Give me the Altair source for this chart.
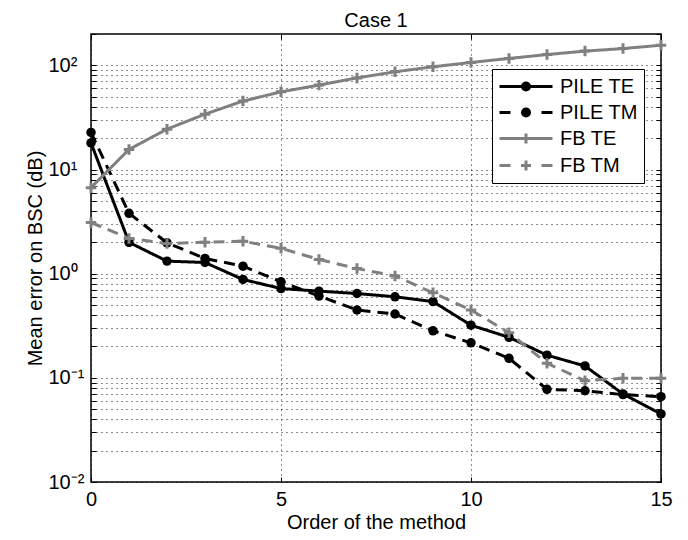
import altair as alt
import pandas as pd

order = list(range(16))
series_names = ["PILE TE", "PILE TM", "FB TE", "FB TM"]
pile_te = [18.0, 2.0, 1.32, 1.28, 0.88, 0.72, 0.68, 0.645, 0.60, 0.54, 0.32, 0.245, 0.165, 0.13, 0.07, 0.045]
pile_tm = [22.7, 3.8, 1.98, 1.40, 1.18, 0.835, 0.61, 0.448, 0.41, 0.283, 0.217, 0.154, 0.0776, 0.0752, 0.069, 0.066]
fb_te = [6.7, 15.6, 24.4, 34.0, 45.4, 55.7, 64.6, 75.8, 86.7, 96.9, 106.6, 116.5, 127.0, 137.0, 145.0, 156.0]
fb_tm = [3.1, 2.18, 1.95, 2.0, 2.05, 1.75, 1.37, 1.12, 0.95, 0.656, 0.448, 0.271, 0.138, 0.0938, 0.099, 0.099]

x_ticks = [0, 5, 10, 15]
y_decades = [0.01, 0.1, 1, 10, 100]
y_decade_labels = ["10⁻²", "10⁻¹", "10⁰", "10¹", "10²"]

series_colors = {"PILE TE": "#000000", "PILE TM": "#000000", "FB TE": "#808080", "FB TM": "#808080"}
series_dashes = {"PILE TE": [1, 0], "PILE TM": [11, 7], "FB TE": [1, 0], "FB TM": [11, 7]}

# grid / tick positions (minor decades) for the dotted log grid
y_grid = []
for d in y_decades[:-1]:
    for k in range(1, 10):
        y_grid.append(round(k * d, 6))
y_grid += [100, 200]

rows = []
for name, vals in zip(series_names, [pile_te, pile_tm, fb_te, fb_tm]):
    for o, v in zip(order, vals):
        rows.append({"order": o, "value": v, "series": name})
df = pd.DataFrame(rows)

label_expr = " : ".join(
    f"datum.value == {v} ? '{lab}'" for v, lab in zip(y_decades, y_decade_labels)
) + " : ''"

FONT = "Liberation Sans"
W, H = 570, 448

x_scale = alt.Scale(domain=[0, 15], nice=False, zero=False)
y_scale = alt.Scale(type="log", domain=[0.01, 200], nice=False)

x_main = alt.X(
    "order:Q", scale=x_scale,
    axis=alt.Axis(
        title="Order of the method", values=x_ticks, format="d",
        grid=True, gridDash=[1, 4], gridColor="#000000", gridOpacity=0.9,
        ticks=False, tickSize=0, labelPadding=7, titlePadding=3,
        domain=False, labelFlush=False,
    ),
)
y_main = alt.Y(
    "value:Q", scale=y_scale,
    axis=alt.Axis(
        title="Mean error on BSC (dB)", values=[v for v in y_grid if v < 150], labelExpr=label_expr,
        grid=True, gridDash=[1, 4], gridColor="#000000", gridOpacity=0.9,
        ticks=False, tickSize=0, labelAlign="left", labelPadding=43,
        labelOverlap=False, titlePadding=3, domain=False, labelFlush=False,
    ),
)


def tick_axis(orient, values, offset):
    return alt.Axis(orient=orient, offset=offset, values=values, labels=False, title=None,
                    grid=False, domain=False, ticks=True, tickSize=5, tickWidth=1,
                    tickColor="#000000")


# data-driven (alphabetical) domain for the drawing layers
alpha = sorted(series_names)
color_scale = alt.Scale(range=[series_colors[s] for s in alpha])
dash_scale = alt.Scale(range=[series_dashes[s] for s in alpha])
base = alt.Chart(df)

lines = base.mark_line(strokeWidth=3).encode(
    x=x_main, y=y_main,
    color=alt.Color("series:N", scale=color_scale, legend=None),
    strokeDash=alt.StrokeDash("series:N", scale=dash_scale, legend=None),
)

# inward ticks on the top and right edges
circles = base.transform_filter(
    alt.FieldOneOfPredicate(field="series", oneOf=["PILE TE", "PILE TM"])
).mark_point(filled=True, shape="circle", size=90, opacity=1).encode(
    x=alt.X("order:Q", scale=x_scale, axis=tick_axis("bottom", x_ticks, -H)),
    y=alt.Y("value:Q", scale=y_scale, axis=tick_axis("left", y_grid, -W)),
    color=alt.Color("series:N", scale=color_scale, legend=None),
)

pluses = base.transform_filter(
    alt.FieldOneOfPredicate(field="series", oneOf=["FB TE", "FB TM"])
).mark_point(filled=False, shape="M-1,0H1M0,-1V1", size=110, strokeWidth=3, opacity=1).encode(
    x=alt.X("order:Q", scale=x_scale, axis=None),
    y=alt.Y("value:Q", scale=y_scale, axis=None),
    color=alt.Color("series:N", scale=color_scale, legend=None),
)

# legend glyphs (unit = 10 px): line segment(s) plus a marker drawn with strokes
circ = ("M2.0,0A0.35,0.35 0 1,0 1.3,0A0.35,0.35 0 1,0 2.0,0Z"
        "M1.8,0A0.15,0.15 0 1,0 1.5,0A0.15,0.15 0 1,0 1.8,0Z")
plus = "M1.15,0H2.15M1.65,-0.5V0.5"
solid = "M-1,0H4.3"
dashed = "M-1,0H0.1M3.2,0H4.3"
legend_paths = [solid + circ, dashed + circ, solid + plus, dashed + plus]

# legend layer (no marks drawn) also carries inward ticks on the bottom and left edges
legend_layer = base.transform_filter("false").mark_point(filled=False, strokeWidth=3, opacity=1).encode(
    x=alt.X("order:Q", scale=x_scale, axis=tick_axis("top", x_ticks, -H)),
    y=alt.Y("value:Q", scale=y_scale, axis=tick_axis("right", y_grid, -W)),
    stroke=alt.Stroke("series:N", scale=alt.Scale(domain=series_names, range=[series_colors[s] for s in series_names]),
                      title=None,
                      legend=alt.Legend(orient="none", legendX=401, legendY=35, padding=6,
                                        strokeColor="#000000", fillColor="#ffffff", symbolSize=400,
                                        symbolStrokeWidth=3, symbolOpacity=1, labelOffset=39, rowPadding=4,
                                        labelFont=FONT, labelFontSize=20, labelColor="#000000")),
    shape=alt.Shape("series:N", scale=alt.Scale(domain=series_names, range=legend_paths), title=None),
)

chart = alt.layer(lines, circles, pluses, legend_layer).resolve_axis(
    x="independent", y="independent"
).properties(
    width=W, height=H,
    title=alt.TitleParams("Case 1", font=FONT, fontSize=20, fontWeight="normal", color="#000000",
                          offset=0, dy=13, baseline="alphabetic"),
    autosize=alt.AutoSizeParams(type="none"),
    padding={"left": 83, "top": 26, "right": 19, "bottom": 50},
).configure(
    background="#ffffff",
).configure_axis(
    labelFont=FONT, labelFontSize=20, labelColor="#000000",
    titleFont=FONT, titleFontSize=20, titleFontWeight="normal", titleColor="#000000",
).configure_view(
    stroke="#000000", strokeWidth=1.5,
)

chart.save("out.html", embed_options={"renderer": "svg", "actions": False})
